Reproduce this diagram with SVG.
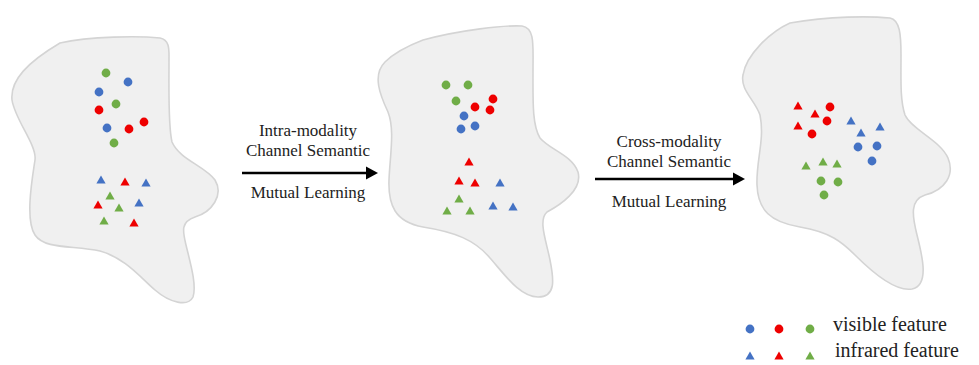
<svg xmlns="http://www.w3.org/2000/svg" xmlns:xlink="http://www.w3.org/1999/xlink" width="979" height="365" viewBox="0 0 979 365">
<style>
.blob{fill:#f0f0f0;stroke:#d4d4d4;stroke-width:1.6}
.b{fill:#4472c4}.r{fill:#ee0000}.g{fill:#70ad47}
.lbl{font-family:"Liberation Serif","Times New Roman",serif;font-size:17px;fill:#222;text-anchor:middle}
.leg{font-family:"Liberation Serif","Times New Roman",serif;font-size:20px;fill:#222}
.arr{stroke:#000;stroke-width:2.6;fill:none}
</style>
<defs>
<circle id="dot" r="4.4"/>
<path id="tri" d="M0,-4.5 L4.6,3.6 L-4.6,3.6 Z"/>
<marker id="head" markerUnits="userSpaceOnUse" markerWidth="14" markerHeight="14" refX="0" refY="7" orient="auto">
<path d="M0,0.5 L12,7 L0,13.5 Z" fill="#000"/>
</marker>
</defs>
<rect width="979" height="365" fill="#fff"/>
<g id="space-initial">
<path class="blob" d="M60,43 C90,36 140,36 160,38 C170,40 169,50 169,60 C169,90 168,125 172,142 C180,160 205,166 215,180 C224,195 212,212 195,217 C180,222 183,232 186,245 C190,262 197,285 193,297 C188,307 170,303 155,290 C140,277 125,258 100,251 C75,245 45,250 35,235 C25,220 32,180 35,160 C37,145 15,120 12,100 C10,80 28,62 60,43 Z"/>
<use href="#dot" x="106" y="73" class="g"/>
<use href="#dot" x="128" y="82" class="b"/>
<use href="#dot" x="99" y="92" class="b"/>
<use href="#dot" x="116" y="104" class="g"/>
<use href="#dot" x="99" y="110" class="r"/>
<use href="#dot" x="144" y="122" class="r"/>
<use href="#dot" x="107" y="128" class="b"/>
<use href="#dot" x="129" y="129" class="r"/>
<use href="#dot" x="114" y="143" class="g"/>
<use href="#tri" x="101" y="180" class="b"/>
<use href="#tri" x="125" y="182" class="r"/>
<use href="#tri" x="146" y="183" class="b"/>
<use href="#tri" x="110" y="196" class="g"/>
<use href="#tri" x="98" y="205" class="r"/>
<use href="#tri" x="119" y="208" class="g"/>
<use href="#tri" x="139" y="203" class="b"/>
<use href="#tri" x="104" y="221" class="g"/>
<use href="#tri" x="134" y="223" class="r"/>
</g>
<g id="space-intra">
<path class="blob" d="M423,40 C460,30 505,25 522,26 C535,28 533,45 533,70 C533,100 532,125 540,138 C550,150 572,155 578,172 C583,190 560,205 547,212 C538,220 546,240 550,260 C554,280 556,297 538,297 C520,297 505,275 490,258 C475,240 455,232 423,227 C395,222 388,205 389,180 C390,155 395,130 388,112 C380,95 372,75 385,62 C395,52 410,45 423,40 Z"/>
<use href="#dot" x="446" y="85" class="g"/>
<use href="#dot" x="468" y="85" class="g"/>
<use href="#dot" x="456" y="101" class="g"/>
<use href="#dot" x="493" y="99" class="r"/>
<use href="#dot" x="475" y="107" class="r"/>
<use href="#dot" x="490" y="110" class="r"/>
<use href="#dot" x="464" y="116" class="b"/>
<use href="#dot" x="461" y="129" class="b"/>
<use href="#dot" x="475" y="126" class="b"/>
<use href="#tri" x="469" y="162" class="r"/>
<use href="#tri" x="459" y="181" class="r"/>
<use href="#tri" x="475" y="183" class="r"/>
<use href="#tri" x="500" y="183" class="b"/>
<use href="#tri" x="459" y="199" class="g"/>
<use href="#tri" x="447" y="211" class="g"/>
<use href="#tri" x="470" y="211" class="g"/>
<use href="#tri" x="493" y="206" class="b"/>
<use href="#tri" x="513" y="207" class="b"/>
</g>
<g id="space-cross">
<path class="blob" d="M790,23 C830,16 870,16 890,18 C900,20 901,35 901,55 C901,80 900,100 905,115 C912,130 940,140 948,158 C955,175 945,190 925,195 C910,200 912,215 917,235 C922,255 930,285 912,289 C895,292 870,270 855,255 C842,242 830,232 800,227 C770,222 758,210 757,185 C756,160 765,140 760,115 C755,100 740,90 743,75 C746,55 770,32 790,23 Z"/>
<use href="#tri" x="798" y="106" class="r"/>
<use href="#dot" x="830" y="107" class="r"/>
<use href="#tri" x="815" y="114" class="r"/>
<use href="#dot" x="827" y="121" class="r"/>
<use href="#tri" x="798" y="126" class="r"/>
<use href="#dot" x="812" y="134" class="r"/>
<use href="#tri" x="851" y="121" class="b"/>
<use href="#tri" x="861" y="133" class="b"/>
<use href="#tri" x="880" y="127" class="b"/>
<use href="#dot" x="858" y="147" class="b"/>
<use href="#dot" x="877" y="146" class="b"/>
<use href="#dot" x="872" y="161" class="b"/>
<use href="#tri" x="806" y="166" class="g"/>
<use href="#tri" x="823" y="162" class="g"/>
<use href="#tri" x="837" y="164" class="g"/>
<use href="#dot" x="821" y="181" class="g"/>
<use href="#dot" x="838" y="182" class="g"/>
<use href="#dot" x="824" y="195" class="g"/>
</g>
<g id="connectors">
<line class="arr" x1="242" y1="173" x2="366" y2="173" marker-end="url(#head)"/>
<line class="arr" x1="595" y1="179" x2="733" y2="179" marker-end="url(#head)"/>
</g>
<g id="label-intra">
<text class="lbl" x="308" y="136">Intra-modality</text>
<text class="lbl" x="308" y="156">Channel Semantic</text>
<text class="lbl" x="308" y="198">Mutual Learning</text>
</g>
<g id="label-cross">
<text class="lbl" x="669" y="147">Cross-modality</text>
<text class="lbl" x="669" y="167">Channel Semantic</text>
<text class="lbl" x="669" y="207">Mutual Learning</text>
</g>
<g id="legend">
<use href="#dot" x="750" y="329" class="b"/>
<use href="#dot" x="779" y="329" class="r"/>
<use href="#dot" x="810" y="329" class="g"/>
<use href="#tri" x="750" y="356" class="b"/>
<use href="#tri" x="779" y="356" class="r"/>
<use href="#tri" x="810" y="356" class="g"/>
<text class="leg" x="833" y="331">visible feature</text>
<text class="leg" x="835" y="357">infrared feature</text>
</g>
</svg>
